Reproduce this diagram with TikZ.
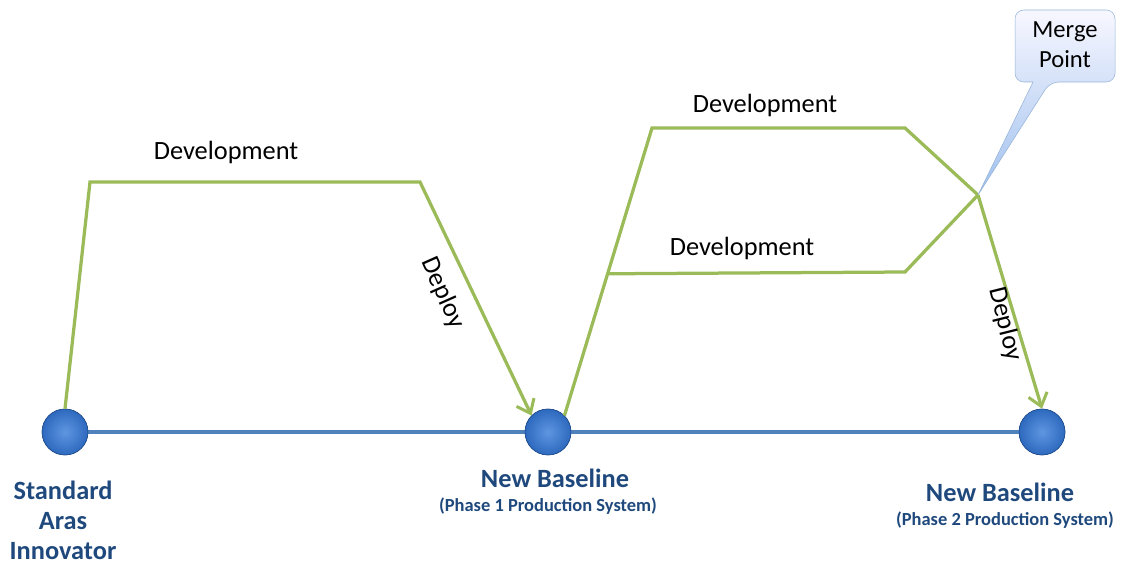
\documentclass[tikz,border=0pt]{standalone}
\usepackage{fontspec}
\setmainfont{Carlito}
\usetikzlibrary{calc,arrows.meta}
\definecolor{devgreen}{RGB}{155,187,89}
\definecolor{baseblue}{RGB}{79,129,189}
\definecolor{labelnavy}{RGB}{31,73,125}
\definecolor{ballin}{RGB}{95,150,225}
\definecolor{ballout}{RGB}{45,105,190}
\definecolor{tipblue}{RGB}{160,192,238}
\tikzset{
	milestone/.style={circle, minimum size=0.92cm, inner sep=0pt, draw=ballout!70!black, line width=0.3pt, inner color=ballin, outer color=ballout},
	devline/.style={line width=0.65mm, color=devgreen, line join=miter},
	devarrow/.style={devline, -{Straight Barb[length=7pt,width=11pt,line width=0.6mm]}},
	devtext/.style={font=\fontsize{15}{18}\selectfont},
	basetext/.style={font=\bfseries\fontsize{15}{17}\selectfont, color=labelnavy, align=center},
	subtext/.style={font=\bfseries\fontsize{10.5}{12}\selectfont, color=labelnavy}
}

\begin{document}
\begin{tikzpicture}
			%%%%% START %%%%%
			\useasboundingbox (0, 0) rectangle (22.44, 11.28);
			
			\node[milestone] (n1) at (1.3, 2.64) {};
			\node[milestone] (n2) at (10.96, 2.64) {};
			\node[milestone] (n3) at (20.84, 2.64) {};
			
			\draw[line width=0.65mm, color=baseblue] (n1) -- (n2) -- (n3);
			\node[milestone] at (n1) {};
			\node[milestone] at (n2) {};
			\node[milestone] at (n3) {};
			
			% first release
			\coordinate (a1) at (1.8, 7.64);
			\coordinate (a2) at (8.4, 7.64);
			\draw[devarrow] (n1.north) -- (a1) -- (a2) -- (n2.north west);
			
			% second release, two branches
			\coordinate (b1) at (13.04, 8.72);
			\coordinate (b2) at (18.1, 8.72);
			\coordinate (merge) at (19.56, 7.38);
			\coordinate (br) at ($(n2.north east)!0.493!(b1)$);
			\coordinate (c1) at (18.1, 5.84);
			\draw[devline] (n2.north east) -- (b1) -- (b2) -- (merge);
			\draw[devline] (br) -- (c1) -- (merge);
			\draw[devarrow] (merge) -- (n3.north);
			
			% callout
			\draw[draw=baseblue!60, line width=0.3pt, top color=blue!3!white, bottom color=tipblue, rounded corners=5pt]
				(20.3, 11.08) -- (22.3, 11.08) -- (22.3, 9.64) -- (21.0, 9.64)
				[sharp corners] -- (merge) -- (20.66, 9.64)
				[rounded corners=5pt] -- (20.3, 9.64) -- cycle;
			\node[align=center, font=\fontsize{14}{17}\selectfont] (mp) at (21.3, 10.38) {Merge\\Point};
			
			% labels
			\node[devtext] (d1) at (4.52, 8.24) {Development};
			\node[devtext] (d2) at (15.3, 9.18) {Development};
			\node[devtext] (d3) at (14.84, 6.32) {Development};
			\node[devtext, rotate=-66] (p1) at (8.86, 5.42) {Deploy};
			\node[devtext, rotate=-76] (p2) at (20.1, 4.8) {Deploy};
			
			\node[basetext, anchor=north] (l1) at (1.26, 1.78) {Standard\\Aras\\Innovator};
			\node[basetext] (l2) at (11.1, 1.72) {New Baseline};
			\node[subtext] (s2) at (10.96, 1.16) {(Phase 1 Production System)};
			\node[basetext] (l3) at (20.0, 1.44) {New Baseline};
			\node[subtext] (s3) at (20.1, 0.88) {(Phase 2 Production System)};
			%%%%% END %%%%%
\end{tikzpicture}
\end{document}
